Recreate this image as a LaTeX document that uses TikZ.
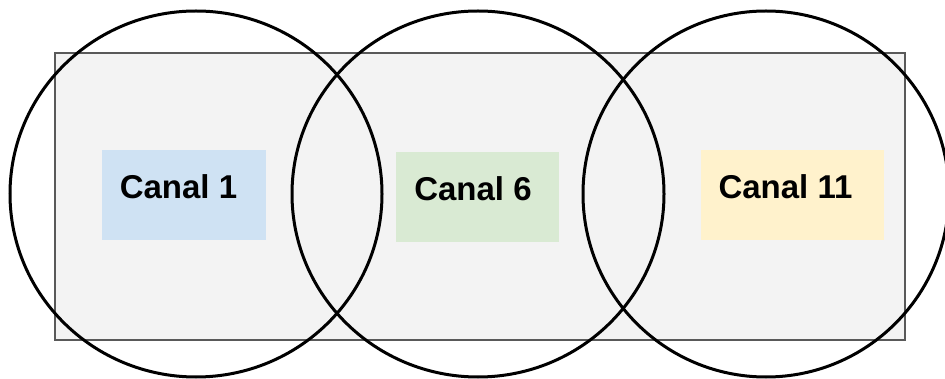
\documentclass[tikz,border=0pt]{standalone}
\usepackage{fontspec}
\setmainfont{Liberation Sans}
\definecolor{bgfill}{HTML}{F3F3F3}
\definecolor{bgline}{HTML}{595959}
\definecolor{cblue}{HTML}{CFE2F3}
\definecolor{cgreen}{HTML}{D9EAD3}
\definecolor{cyellow}{HTML}{FFF2CC}
\tikzset{
  area/.style={fill=bgfill, draw=bgline, line width=1.5pt},
  chanbox/.style={draw=none, inner sep=0pt, minimum width=#1, minimum height=90pt},
  lbl/.style={font=\bfseries\fontsize{33}{40}\selectfont, anchor=base, inner sep=0pt},
  cell/.style={draw=black, line width=3pt}
}
\begin{document}
\begin{tikzpicture}[x=1pt,y=-1pt]
\useasboundingbox (0,0) rectangle (945,379);
\fill[white] (0,0) rectangle (945,379);
\begin{scope}
\clip (0,0) rectangle (945,379);
\node[area, inner sep=0pt, minimum width=850pt, minimum height=287pt] (zone) at (480,196.5) {};
\node[chanbox=164pt, fill=cblue] (b1) at (184,195) {};
\node[chanbox=163pt, fill=cgreen] (b6) at (477.5,197) {};
\node[chanbox=183pt, fill=cyellow] (b11) at (792.5,195) {};
\node[lbl] (t1) at (178.5,199) {Canal 1};
\node[lbl] (t6) at (473,201) {Canal 6};
\node[lbl] (t11) at (785.5,199) {Canal 11};
\draw[cell] (196,194) ellipse [x radius=186, y radius=183];
\draw[cell] (478,194) ellipse [x radius=186, y radius=183];
\draw[cell] (766,194) ellipse [x radius=183, y radius=183];
\end{scope}
\end{tikzpicture}
\end{document}
